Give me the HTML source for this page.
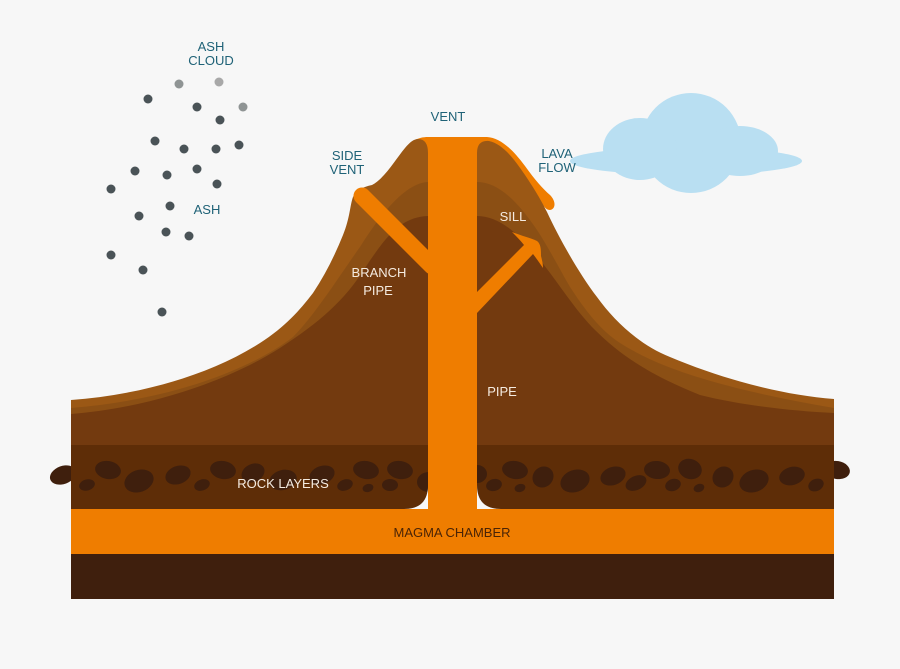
<!DOCTYPE html>
<html><head><meta charset="utf-8"><style>
html,body{margin:0;padding:0;background:#f7f7f7;}
svg{display:block;}
text{font-family:"Liberation Sans",sans-serif;font-size:13px;}
</style></head><body>
<svg width="900" height="669" viewBox="0 0 900 669" xmlns="http://www.w3.org/2000/svg">
<defs>
<clipPath id="rockclip">
<path d="M71,445 L428,445 L428,485 Q428,509 404,509 L71,509 Z"/>
<path d="M477,445 L834,445 L834,509 L501,509 Q477,509 477,485 Z"/>
</clipPath>
</defs>
<rect width="900" height="669" fill="#f7f7f7"/>
<!-- cloud -->
<g fill="#b9dff2">
<ellipse cx="686" cy="161" rx="116" ry="14"/>
<circle cx="691" cy="143" r="50"/>
<ellipse cx="640" cy="149" rx="37" ry="31"/>
<ellipse cx="740" cy="151" rx="38" ry="25"/>
</g>
<!-- ash dots -->
<g fill="#4a5357">
<circle cx="148" cy="99" r="4.5"/><circle cx="197" cy="107" r="4.5"/><circle cx="220" cy="120" r="4.5"/>
<circle cx="155" cy="141" r="4.5"/><circle cx="184" cy="149" r="4.5"/><circle cx="216" cy="149" r="4.5"/>
<circle cx="239" cy="145" r="4.5"/><circle cx="135" cy="171" r="4.5"/><circle cx="167" cy="175" r="4.5"/>
<circle cx="197" cy="169" r="4.5"/><circle cx="217" cy="184" r="4.5"/><circle cx="111" cy="189" r="4.5"/>
<circle cx="170" cy="206" r="4.5"/><circle cx="139" cy="216" r="4.5"/><circle cx="166" cy="232" r="4.5"/>
<circle cx="189" cy="236" r="4.5"/><circle cx="111" cy="255" r="4.5"/><circle cx="143" cy="270" r="4.5"/>
<circle cx="162" cy="312" r="4.5"/>
</g>
<circle cx="179" cy="84" r="4.5" fill="#8f9494"/>
<circle cx="219" cy="82" r="4.5" fill="#a8a8a8"/>
<circle cx="243" cy="107" r="4.5" fill="#8f9494"/>

<!-- protruding rocks -->
<ellipse cx="63" cy="475" rx="13.5" ry="9" transform="rotate(-20 63 475)" fill="#3f1f0d"/>
<ellipse cx="837" cy="470" rx="13" ry="9" transform="rotate(10 837 470)" fill="#3f1f0d"/>

<!-- orange pipe & vent top (behind) -->
<rect x="428" y="137" width="49" height="390" fill="#ef7d00"/>
<path d="M404,150 C 411,141 418,137 428,137 L477,137 C 487,137 494,140 501,147 L501,175 L404,175 Z" fill="#ef7d00"/>
<!-- lava flow (behind right band) -->
<path d="M476,137 L487,137 C 501,138 513,150 525,166 C 535,180 543,189 550,195 C 556,201 556,209 550,210 C 547,210 545,208 543,205 L 520,190 L476,160 Z" fill="#ef7d00"/>

<!-- left outer band -->
<path d="M71,400 C 140,395 210,375 260,343 C 285,327 300,310 313,293 C 325,275 335,255 343,235 C 350,218 350,205 353,197 C 356,190 363,187 372,185 C 385,178 395,160 405,148 C 410,142 414,139 418,139 Q 428,139 428,153 L428,445 L71,445 Z" fill="#9b5815"/>
<!-- right outer band -->
<path d="M477,153 Q477,140 489,141 C 503,144 514,159 525,175 C 535,190 541,200 547,212 C 560,240 580,275 597,297 C 615,322 640,345 670,357 C 720,378 780,395 834,399 L834,445 L477,445 Z" fill="#9b5815"/>

<!-- middle band -->
<path d="M71,408 C 170,400 250,370 293,337 C 315,315 340,275 360,247 C 380,215 405,183 428,182 L428,445 L71,445 Z" fill="#8b4f14"/>
<path d="M477,182 C 500,182 520,205 537,230 C 550,250 560,270 570,287 C 585,310 600,330 620,343 C 650,362 700,385 834,408 L834,445 L477,445 Z" fill="#8b4f14"/>

<!-- inner -->
<path d="M71,414 C 150,408 230,380 280,348 C 320,322 345,300 365,268 C 385,238 400,217 428,216 L428,445 L71,445 Z" fill="#733a0f"/>
<path d="M477,216 C 500,216 520,235 540,260 C 560,285 575,310 595,330 C 620,355 650,375 700,395 C 740,405 790,411 834,413 L834,445 L477,445 Z" fill="#733a0f"/>

<!-- branch pipe -->
<line x1="362" y1="196" x2="432" y2="266" stroke="#ef7d00" stroke-width="17" stroke-linecap="round"/>
<!-- sill -->
<path d="M477,292 L524,245 C 520,240 516,236 512,232 C 522,236 531,238 537,241 C 541,244 541,250 541,256 C 542,260 543,264 543,268 C 539,262 536,258 533,254 L477,313 Z" fill="#ef7d00"/>
<!-- pipe overlay -->
<rect x="428" y="137" width="49" height="310" fill="#ef7d00"/>

<!-- rock layer -->
<path d="M71,445 L428,445 L428,485 Q428,509 404,509 L71,509 Z" fill="#5e2d07"/>
<path d="M477,445 L834,445 L834,509 L501,509 Q477,509 477,485 Z" fill="#5e2d07"/>

<!-- rocks (clipped) -->
<g fill="#3f1f0d" clip-path="url(#rockclip)">
<ellipse cx="108" cy="470" rx="13" ry="9" transform="rotate(10 108 470)"/>
<ellipse cx="87" cy="485" rx="8" ry="5.5" transform="rotate(-15 87 485)"/>
<ellipse cx="139" cy="481" rx="15" ry="11" transform="rotate(-20 139 481)"/>
<ellipse cx="178" cy="475" rx="13" ry="9" transform="rotate(-20 178 475)"/>
<ellipse cx="202" cy="485" rx="8" ry="5.5" transform="rotate(-20 202 485)"/>
<ellipse cx="223" cy="470" rx="13" ry="9" transform="rotate(10 223 470)"/>
<ellipse cx="253" cy="473" rx="12" ry="9" transform="rotate(-25 253 473)"/>
<ellipse cx="283" cy="480" rx="14" ry="10" transform="rotate(-15 283 480)"/>
<ellipse cx="322" cy="475" rx="13" ry="9" transform="rotate(-20 322 475)"/>
<ellipse cx="345" cy="485" rx="8" ry="5.5" transform="rotate(-20 345 485)"/>
<ellipse cx="366" cy="470" rx="13" ry="9" transform="rotate(10 366 470)"/>
<ellipse cx="368" cy="488" rx="5.5" ry="4" transform="rotate(-15 368 488)"/>
<ellipse cx="390" cy="485" rx="8" ry="6"/>
<ellipse cx="400" cy="470" rx="13" ry="9" transform="rotate(10 400 470)"/>
<ellipse cx="429" cy="482" rx="12" ry="10"/>
<ellipse cx="477" cy="474" rx="10" ry="9"/>
<ellipse cx="494" cy="485" rx="8" ry="6" transform="rotate(-15 494 485)"/>
<ellipse cx="515" cy="470" rx="13" ry="9" transform="rotate(10 515 470)"/>
<ellipse cx="520" cy="488" rx="5.5" ry="4" transform="rotate(-15 520 488)"/>
<ellipse cx="543" cy="477" rx="11" ry="10" transform="rotate(-45 543 477)"/>
<ellipse cx="575" cy="481" rx="15" ry="11" transform="rotate(-20 575 481)"/>
<ellipse cx="613" cy="476" rx="13" ry="9" transform="rotate(-20 613 476)"/>
<ellipse cx="636" cy="483" rx="11" ry="7" transform="rotate(-25 636 483)"/>
<ellipse cx="657" cy="470" rx="13" ry="9" transform="rotate(5 657 470)"/>
<ellipse cx="673" cy="485" rx="8" ry="6" transform="rotate(-20 673 485)"/>
<ellipse cx="690" cy="469" rx="12" ry="10" transform="rotate(20 690 469)"/>
<ellipse cx="699" cy="488" rx="5.5" ry="4" transform="rotate(-20 699 488)"/>
<ellipse cx="723" cy="477" rx="11" ry="10" transform="rotate(-45 723 477)"/>
<ellipse cx="754" cy="481" rx="15" ry="11" transform="rotate(-20 754 481)"/>
<ellipse cx="792" cy="476" rx="13" ry="9" transform="rotate(-15 792 476)"/>
<ellipse cx="816" cy="485" rx="8" ry="6" transform="rotate(-25 816 485)"/>
</g>

<!-- magma chamber & bottom -->
<rect x="71" y="509" width="763" height="45" fill="#ef7d00"/>
<rect x="71" y="554" width="763" height="45" fill="#3f1f0d"/>

<!-- labels teal -->
<g fill="#1f6277" text-anchor="middle">
<text x="211" y="51">ASH</text>
<text x="211" y="65">CLOUD</text>
<text x="207" y="214">ASH</text>
<text x="448" y="121">VENT</text>
<text x="347" y="160">SIDE</text>
<text x="347" y="174">VENT</text>
<text x="557" y="158">LAVA</text>
<text x="557" y="172">FLOW</text>
</g>
<g fill="#f5ebe0" text-anchor="middle">
<text x="513" y="221">SILL</text>
<text x="379" y="277">BRANCH</text>
<text x="378" y="295">PIPE</text>
<text x="502" y="396">PIPE</text>
<text x="283" y="488">ROCK LAYERS</text>
</g>
<text x="452" y="537" fill="#4a2406" text-anchor="middle">MAGMA CHAMBER</text>
</svg>
</body></html>
